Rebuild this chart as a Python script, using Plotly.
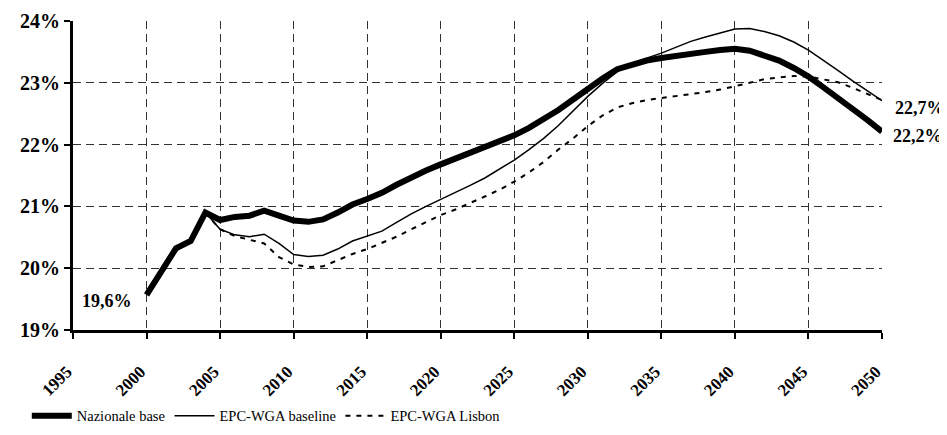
import plotly.graph_objects as go

# anni e serie (% del PIL)
years_naz = list(range(2000, 2051))
nazionale_base = [
    19.57, 19.95, 20.32, 20.44, 20.90, 20.78, 20.83, 20.85, 20.93, 20.85,
    20.77, 20.75, 20.79, 20.90, 21.03, 21.12, 21.22, 21.35, 21.47, 21.58,
    21.68, 21.77, 21.86, 21.95, 22.05, 22.15, 22.27, 22.41, 22.56, 22.73,
    22.91, 23.07, 23.22, 23.30, 23.36, 23.40, 23.44, 23.47, 23.50, 23.53,
    23.55, 23.52, 23.45, 23.36, 23.24, 23.10, 22.93, 22.76, 22.58, 22.40,
    22.21,
]

years_epc = list(range(2004, 2051))
epc_baseline = [
    20.90, 20.63, 20.54, 20.51, 20.55, 20.40, 20.22, 20.19, 20.21, 20.31,
    20.44, 20.52, 20.60, 20.74, 20.88, 21.00, 21.11, 21.22, 21.34, 21.46,
    21.60, 21.75, 21.92, 22.10, 22.31, 22.54, 22.78, 22.99, 23.18, 23.30,
    23.40, 23.48, 23.58, 23.67, 23.74, 23.81, 23.87, 23.88, 23.83, 23.76,
    23.66, 23.53, 23.37, 23.20, 23.03, 22.87, 22.71,
]
epc_lisbon = [
    20.90, 20.63, 20.52, 20.46, 20.40, 20.18, 20.06, 20.02, 20.03, 20.13,
    20.23, 20.31, 20.41, 20.51, 20.63, 20.75, 20.86, 20.95, 21.05, 21.16,
    21.27, 21.40, 21.55, 21.72, 21.92, 22.10, 22.30, 22.47, 22.60, 22.67,
    22.72, 22.75, 22.79, 22.82, 22.85, 22.89, 22.94, 23.00, 23.06, 23.09,
    23.11, 23.10, 23.06, 23.01, 22.92, 22.82, 22.72,
]

x_ticks = list(range(1995, 2051, 5))
y_ticks = [19, 20, 21, 22, 23, 24]

FONT = "Liberation Serif, Times New Roman, serif"

fig = go.Figure()
fig.add_trace(go.Scatter(x=years_naz, y=nazionale_base, mode="lines",
                         name="Nazionale base", legend="legend",
                         line=dict(color="black", width=6)))
fig.add_trace(go.Scatter(x=years_epc, y=epc_baseline, mode="lines",
                         name="EPC-WGA baseline", legend="legend2",
                         line=dict(color="black", width=1.5)))
fig.add_trace(go.Scatter(x=years_epc, y=epc_lisbon, mode="lines",
                         name="EPC-WGA Lisbon", legend="legend3",
                         line=dict(color="black", width=2, dash="5px,6px")))

# etichette dei valori estremi
lab_font = dict(family=FONT, size=18, color="black")
fig.add_annotation(x=years_naz[0], y=nazionale_base[0], text="<b>19,6%</b>",
                   showarrow=False, xanchor="right", yanchor="middle",
                   xshift=-13, yshift=-6, font=lab_font)
fig.add_annotation(x=years_epc[-1], y=epc_baseline[-1], text="<b>22,7%</b>",
                   showarrow=False, xanchor="left", yanchor="middle",
                   xshift=11, yshift=-7, font=lab_font)
fig.add_annotation(x=years_naz[-1], y=nazionale_base[-1], text="<b>22,2%</b>",
                   showarrow=False, xanchor="left", yanchor="middle",
                   xshift=9, yshift=-4, font=lab_font)

leg = dict(orientation="h", xref="container", xanchor="left",
           yref="container", y=0.045, yanchor="middle",
           font=dict(family=FONT, size=14.5), itemwidth=40,
           bgcolor="rgba(0,0,0,0)")
fig.update_layout(
    width=939, height=427,
    margin=dict(l=65, r=65, t=13, b=105, autoexpand=False),
    plot_bgcolor="white", paper_bgcolor="white",
    font=dict(family=FONT, color="black"),
    showlegend=True,
    legend=dict(leg, x=0.020),
    legend2=dict(leg, x=0.172),
    legend3=dict(leg, x=0.354),
)
fig.update_xaxes(
    range=[1995, 2050], tickvals=x_ticks,
    ticktext=[f"<b>{t}</b>" for t in x_ticks], tickangle=-45,
    tickfont=dict(family=FONT, size=17),
    ticklabelstandoff=16, ticklabelshift=-6,
    showline=True, linecolor="black", linewidth=3,
    ticks="outside", ticklen=6, tickwidth=2, tickcolor="black",
    showgrid=True, gridcolor="#333", gridwidth=1, griddash="8px,5px",
    zeroline=False, automargin=False,
)
fig.update_yaxes(
    range=[19, 24], tickvals=y_ticks,
    ticktext=[f"<b>{t}%</b>" for t in y_ticks],
    tickfont=dict(family=FONT, size=20),
    showline=True, linecolor="black", linewidth=3,
    ticks="outside", ticklen=6, tickwidth=2, tickcolor="black",
    showgrid=True, gridcolor="#333", gridwidth=1, griddash="8px,5px",
    zeroline=False, automargin=False,
)

fig.write_html("out.html")
